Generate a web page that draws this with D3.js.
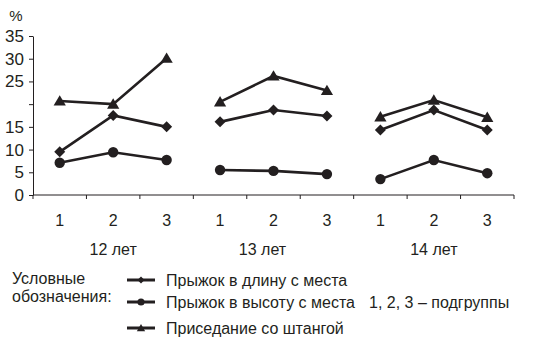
<!DOCTYPE html>
<html>
<head>
<meta charset="utf-8">
<script src="https://cdn.jsdelivr.net/npm/d3@7"></script>
<style>
  body { margin: 0; background: #fff; }
  text { font-family: "Liberation Sans", Arial, sans-serif; fill: #231f20; }
</style>
</head>
<body>
<svg id="chart" width="534" height="353"></svg>
<script>
// subgroups 1-3 inside each age group
var groups = ["12 лет", "13 лет", "14 лет"];
var subgroups = ["1", "2", "3"];
var yTicks = [0, 5, 10, 15, 20, 25, 30, 35];
var yTickLabels = ["0", "5", "10", "15", "", "25", "30", "35"];

var seriesNames = ["Прыжок в длину с места", "Прыжок в высоту с места", "Приседание со штангой"];
// values per group, 3 subgroups each
var longJump = [[9.5, 17.5, 15.0], [16.1, 18.7, 17.4], [14.3, 18.7, 14.3]];
var highJump = [[7.1, 9.4, 7.7], [5.5, 5.3, 4.6], [3.5, 7.7, 4.8]];
var squat = [[20.7, 20.0, 30.1], [20.5, 26.2, 23.0], [17.2, 20.9, 17.1]];
var legendTitle = ["Условные", "обозначения:"];
var note = "1, 2, 3 – подгруппы";

var svg = d3.select("#chart"),
    ink = "#231f20",
    mLeft = 33, mRight = 514, mTop = 36, mBottom = 195;

var keys = [];
groups.forEach(function(g, gi) {
  subgroups.forEach(function(s) { keys.push(gi + "-" + s); });
});

var x = d3.scaleBand().domain(keys).range([mLeft, mRight]).padding(0);
var y = d3.scaleLinear().domain([0, 35]).range([mBottom, mTop]);

// axes
var gx = svg.append("g").attr("transform", "translate(0," + mBottom + ")");
gx.append("line").attr("x1", mLeft).attr("x2", mRight).attr("stroke", ink);
// tick marks at band boundaries
var bounds = keys.map(function(k) { return x(k); }).concat([mRight]);
gx.selectAll("line.sep").data(bounds).enter().append("line")
  .attr("class", "sep")
  .attr("x1", function(d) { return d; }).attr("x2", function(d) { return d; })
  .attr("y1", 0).attr("y2", 4)
  .attr("stroke", ink);

var gy = svg.append("g").attr("transform", "translate(" + mLeft + ",0)")
  .call(d3.axisLeft(y).tickValues(yTicks).tickSize(4).tickSizeOuter(0)
    .tickFormat(function(d, i) { return yTickLabels[i]; }));
gy.select(".domain").attr("stroke", ink);
gy.selectAll(".tick line").attr("stroke", ink);
gy.selectAll(".tick text").attr("x", -9).attr("font-size", 17)
  .attr("font-family", "Liberation Sans, Arial, sans-serif").attr("fill", ink);

svg.append("text").attr("x", 16).attr("y", 21).attr("text-anchor", "middle")
  .attr("font-size", 15).text("%");

// subgroup numbers and group labels
svg.selectAll("text.sub").data(keys).enter().append("text")
  .attr("class", "sub")
  .attr("x", function(d) { return x(d) + x.bandwidth() / 2; })
  .attr("y", 226).attr("text-anchor", "middle").attr("font-size", 16)
  .text(function(d) { return d.split("-")[1]; });

svg.selectAll("text.grp").data(groups).enter().append("text")
  .attr("class", "grp")
  .attr("x", function(d, i) { return x(i + "-2") + x.bandwidth() / 2 - (i == 1 ? 11 : 0); })
  .attr("y", 255).attr("text-anchor", "middle").attr("font-size", 16)
  .text(function(d) { return d; });

// marker shapes
var diamond = { draw: function(c, s) { var r = Math.sqrt(s) / 2; c.moveTo(0, -r); c.lineTo(r, 0); c.lineTo(0, r); c.lineTo(-r, 0); c.closePath(); } };
var triangle = { draw: function(c, s) { var w = Math.sqrt(s) / 2; c.moveTo(0, -w * 0.95); c.lineTo(w, w * 0.75); c.lineTo(-w, w * 0.75); c.closePath(); } };

var series = [
  { name: seriesNames[0], values: longJump, shape: diamond, size: 121, lsize: 49 },
  { name: seriesNames[1], values: highJump, shape: d3.symbolCircle, size: 85, lsize: 40 },
  { name: seriesNames[2], values: squat, shape: triangle, size: 150, lsize: 70 }
];

var line = d3.line()
  .x(function(d) { return x(d.key) + x.bandwidth() / 2; })
  .y(function(d) { return y(d.v); });

series.forEach(function(s) {
  var g = svg.append("g");
  s.values.forEach(function(vals, gi) {
    var pts = vals.map(function(v, si) { return { key: gi + "-" + subgroups[si], v: v }; });
    g.append("path").datum(pts).attr("d", line)
      .attr("fill", "none").attr("stroke", ink).attr("stroke-width", 2.6);
    g.selectAll(null).data(pts).enter().append("path")
      .attr("d", d3.symbol().type(s.shape).size(s.size))
      .attr("transform", function(d) { return "translate(" + (x(d.key) + x.bandwidth() / 2) + "," + y(d.v) + ")"; })
      .attr("fill", ink);
  });
});

// legend
svg.selectAll("text.lt").data(legendTitle).enter().append("text")
  .attr("class", "lt").attr("x", 12)
  .attr("y", function(d, i) { return 284 + i * 18; })
  .attr("font-size", 16).text(function(d) { return d; });

var legRows = [280, 302, 328];
var leg = svg.selectAll("g.leg").data(series).enter().append("g")
  .attr("class", "leg")
  .attr("transform", function(d, i) { return "translate(0," + legRows[i] + ")"; });
leg.append("line").attr("x1", 127).attr("x2", 155).attr("y1", 0).attr("y2", 0)
  .attr("stroke", ink).attr("stroke-width", 3);
leg.append("path")
  .attr("d", function(d) { return d3.symbol().type(d.shape).size(d.lsize)(); })
  .attr("transform", "translate(141,0)").attr("fill", ink);
leg.append("text").attr("x", 166).attr("y", 6).attr("font-size", 16)
  .text(function(d) { return d.name; });

svg.append("text").attr("x", 369).attr("y", 308).attr("font-size", 16).text(note);
</script>
</body>
</html>
